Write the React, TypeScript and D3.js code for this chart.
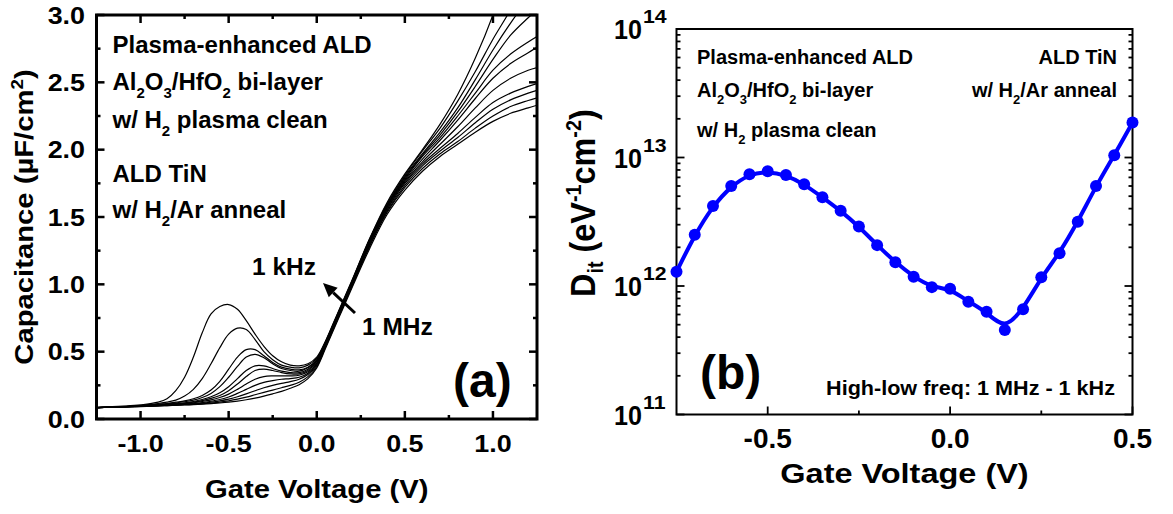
import React from 'react';
import * as d3 from 'd3';

const FONT = '"Liberation Sans", Arial, Helvetica, sans-serif';

// ---------- Panel (a): C-V curves, 1 kHz ... 1 MHz ----------
const VOLTS_A = [-1.25, -1.1, -1.0, -0.9, -0.85, -0.8, -0.75, -0.7, -0.65, -0.6, -0.55, -0.5, -0.45, -0.4, -0.35, -0.3, -0.25, -0.2, -0.15, -0.1, -0.05, 0.0, 0.05, 0.1, 0.15, 0.2, 0.3, 0.4, 0.5, 0.6, 0.7, 0.8, 0.9, 1.0, 1.1, 1.2, 1.25];

const CAP_F1 = [0.085, 0.095, 0.105, 0.125, 0.15, 0.21, 0.31, 0.46, 0.64, 0.78, 0.835, 0.85, 0.815, 0.73, 0.63, 0.54, 0.47, 0.425, 0.40, 0.395, 0.41, 0.46, 0.58, 0.73, 0.88, 1.03, 1.34, 1.61, 1.82, 2.00, 2.19, 2.41, 2.68, 3.0, 3.4, 3.8, 4.0];
const CAP_F2 = [0.085, 0.093, 0.10, 0.115, 0.125, 0.14, 0.17, 0.22, 0.30, 0.41, 0.53, 0.63, 0.675, 0.665, 0.59, 0.50, 0.44, 0.40, 0.385, 0.38, 0.40, 0.45, 0.575, 0.725, 0.875, 1.025, 1.335, 1.60, 1.81, 1.99, 2.16, 2.36, 2.58, 2.82, 3.04, 3.3, 3.45];
const CAP_F3 = [0.085, 0.092, 0.10, 0.11, 0.115, 0.125, 0.135, 0.15, 0.175, 0.215, 0.28, 0.37, 0.46, 0.515, 0.515, 0.47, 0.42, 0.385, 0.37, 0.365, 0.385, 0.44, 0.57, 0.72, 0.87, 1.02, 1.33, 1.59, 1.80, 1.97, 2.13, 2.31, 2.52, 2.74, 2.94, 3.12, 3.2];
const CAP_F4 = [0.085, 0.092, 0.10, 0.108, 0.112, 0.12, 0.128, 0.14, 0.16, 0.19, 0.24, 0.31, 0.39, 0.46, 0.48, 0.455, 0.41, 0.375, 0.36, 0.355, 0.38, 0.435, 0.565, 0.715, 0.865, 1.015, 1.325, 1.585, 1.79, 1.96, 2.11, 2.28, 2.47, 2.67, 2.85, 2.98, 3.04];
const CAP_F5 = [0.085, 0.091, 0.098, 0.106, 0.11, 0.115, 0.12, 0.13, 0.145, 0.165, 0.195, 0.24, 0.30, 0.36, 0.395, 0.395, 0.375, 0.355, 0.345, 0.345, 0.37, 0.43, 0.56, 0.71, 0.86, 1.01, 1.32, 1.58, 1.78, 1.95, 2.09, 2.25, 2.42, 2.59, 2.71, 2.80, 2.84];
const CAP_F6 = [0.085, 0.09, 0.097, 0.104, 0.108, 0.112, 0.117, 0.125, 0.137, 0.153, 0.175, 0.21, 0.26, 0.315, 0.36, 0.37, 0.36, 0.345, 0.335, 0.335, 0.36, 0.425, 0.555, 0.705, 0.855, 1.005, 1.315, 1.575, 1.77, 1.93, 2.07, 2.22, 2.38, 2.53, 2.64, 2.72, 2.76];
const CAP_F7 = [0.085, 0.09, 0.096, 0.102, 0.106, 0.11, 0.114, 0.12, 0.13, 0.142, 0.16, 0.185, 0.22, 0.26, 0.295, 0.315, 0.32, 0.32, 0.32, 0.325, 0.35, 0.415, 0.55, 0.70, 0.85, 1.0, 1.31, 1.565, 1.76, 1.91, 2.04, 2.17, 2.31, 2.44, 2.53, 2.59, 2.61];
const CAP_F8 = [0.085, 0.09, 0.095, 0.10, 0.104, 0.107, 0.11, 0.115, 0.122, 0.132, 0.145, 0.163, 0.19, 0.22, 0.25, 0.272, 0.285, 0.295, 0.30, 0.31, 0.34, 0.41, 0.545, 0.695, 0.845, 0.995, 1.30, 1.555, 1.75, 1.895, 2.01, 2.12, 2.24, 2.35, 2.42, 2.47, 2.49];
const CAP_F9 = [0.085, 0.09, 0.094, 0.099, 0.102, 0.105, 0.108, 0.112, 0.117, 0.125, 0.135, 0.148, 0.165, 0.187, 0.21, 0.232, 0.25, 0.265, 0.278, 0.295, 0.33, 0.40, 0.54, 0.69, 0.84, 0.99, 1.29, 1.545, 1.735, 1.88, 1.99, 2.09, 2.20, 2.30, 2.37, 2.42, 2.44];
const CAP_F10 = [0.085, 0.089, 0.093, 0.098, 0.10, 0.103, 0.106, 0.109, 0.113, 0.119, 0.126, 0.135, 0.147, 0.162, 0.18, 0.198, 0.215, 0.232, 0.25, 0.273, 0.315, 0.39, 0.535, 0.685, 0.835, 0.985, 1.28, 1.535, 1.72, 1.86, 1.97, 2.06, 2.16, 2.25, 2.32, 2.365, 2.385];
const CAP_F11 = [0.085, 0.089, 0.092, 0.097, 0.099, 0.101, 0.104, 0.107, 0.11, 0.114, 0.119, 0.125, 0.133, 0.143, 0.155, 0.17, 0.187, 0.205, 0.228, 0.255, 0.30, 0.38, 0.525, 0.675, 0.825, 0.975, 1.265, 1.52, 1.70, 1.84, 1.95, 2.04, 2.13, 2.21, 2.27, 2.31, 2.33];
const CAP_CURVES = [CAP_F1, CAP_F2, CAP_F3, CAP_F4, CAP_F5, CAP_F6, CAP_F7, CAP_F8, CAP_F9, CAP_F10, CAP_F11];

const XMAJOR_A = [-1.0, -0.5, 0.0, 0.5, 1.0];
const XLABELS_A = ['-1.0', '-0.5', '0.0', '0.5', '1.0'];
const XMINOR_A = [-0.75, -0.25, 0.25, 0.75];
const YMAJOR_A = [0, 0.5, 1.0, 1.5, 2.0, 2.5, 3.0];
const YLABELS_A = ['0.0', '0.5', '1.0', '1.5', '2.0', '2.5', '3.0'];
const YMINOR_A = [0.25, 0.75, 1.25, 1.75, 2.25, 2.75];

// ---------- Panel (b): Dit ----------
const VOLTS_B = [-0.75, -0.7, -0.65, -0.6, -0.55, -0.5, -0.45, -0.4, -0.35, -0.3, -0.25, -0.2, -0.15, -0.1, -0.05, 0.0, 0.05, 0.1, 0.15, 0.2, 0.25, 0.3, 0.35, 0.4, 0.45, 0.5];
const DIT = [1.29e12, 2.5e12, 4.2e12, 6.0e12, 7.4e12, 7.8e12, 7.3e12, 6.2e12, 4.9e12, 3.85e12, 2.9e12, 2.08e12, 1.53e12, 1.18e12, 0.98e12, 0.95e12, 0.755e12, 0.63e12, 0.455e12, 0.66e12, 1.17e12, 1.8e12, 3.16e12, 6.0e12, 1.04e13, 1.87e13];

const XMAJOR_B = [-0.5, 0.0, 0.5];
const XLABELS_B = ['-0.5', '0.0', '0.5'];
const XMINOR_B = [-0.25, 0.25];
const YDECADES_B = [1e11, 1e12, 1e13, 1e14];
const YEXP_B = ['11', '12', '13', '14'];

// ---------- layout ----------
const A = { left: 96.5, right: 537, top: 15, bottom: 419 };
const B = { left: 676.5, right: 1132.5, top: 29, bottom: 414.5 };

function T({ x, y, size, sx = 1, sy = 1, rot = 0, anchor = 'start', children }: any) {
  return (
    <g transform={`translate(${x},${y}) rotate(${rot}) scale(${sx},${sy})`}>
      <text x={0} y={0} fontSize={size} fontFamily={FONT} fontWeight="bold" textAnchor={anchor} fill="#000">
        {children}
      </text>
    </g>
  );
}

function Sub({ children, size, dy }: any) {
  return (
    <>
      <tspan fontSize={size} dy={dy}>{children}</tspan>
      <tspan dy={-dy}>{'\u200B'}</tspan>
    </>
  );
}

export default function App() {
  const xa = d3.scaleLinear().domain([-1.25, 1.25]).range([A.left, A.right]);
  const ya = d3.scaleLinear().domain([0, 3]).range([A.bottom, A.top]);
  const xb = d3.scaleLinear().domain([-0.75, 0.5]).range([B.left, B.right]);
  const yb = d3.scaleLog().domain([1e11, 1e14]).range([B.bottom, B.top]);

  const lineA = d3
    .line<number>()
    .x((_, i) => xa(VOLTS_A[i]))
    .y((d) => ya(d))
    .curve(d3.curveCatmullRom.alpha(0.5));

  const lineB = d3
    .line<number>()
    .x((_, i) => xb(VOLTS_B[i]))
    .y((d) => yb(d))
    .curve(d3.curveBasis);

  const minorB: number[] = [];
  for (let e = 11; e < 14; e++) for (let m = 2; m <= 9; m++) minorB.push(m * Math.pow(10, e));

  // arrow (a)
  const tail = [355, 313];
  const tip = [323, 283];
  const dx = tip[0] - tail[0];
  const dy = tip[1] - tail[1];
  const L = Math.hypot(dx, dy);
  const ux = dx / L;
  const uy = dy / L;
  const hl = 14;
  const hw = 6.5;
  const bx = tip[0] - ux * hl;
  const by = tip[1] - uy * hl;
  const head = `${tip[0]},${tip[1]} ${bx - uy * hw},${by + ux * hw} ${bx + uy * hw},${by - ux * hw}`;

  const tkA = 8;
  const tkAm = 4;
  const tkB = 8;
  const tkBm = 4;

  return (
    <svg width={1173} height={514} style={{ position: 'absolute', left: 0, top: 0, background: '#fff' }}>
      <rect x={0} y={0} width={1173} height={514} fill="#fff" />
      <defs>
        <clipPath id="clipA">
          <rect x={A.left} y={A.top} width={A.right - A.left} height={A.bottom - A.top} />
        </clipPath>
      </defs>

      {/* ===== Panel (a) ===== */}
      <g clipPath="url(#clipA)">
        {CAP_CURVES.map((c, i) => (
          <path key={i} d={lineA(c) || ''} fill="none" stroke="#000" strokeWidth={1.2} />
        ))}
      </g>
      <rect x={A.left} y={A.top} width={A.right - A.left} height={A.bottom - A.top} fill="none" stroke="#000" strokeWidth={3} />
      <g stroke="#000" strokeWidth={2.5}>
        {XMAJOR_A.map((v) => (
          <g key={'xa' + v}>
            <line x1={xa(v)} x2={xa(v)} y1={A.bottom} y2={A.bottom - tkA} />
            <line x1={xa(v)} x2={xa(v)} y1={A.top} y2={A.top + tkA} />
          </g>
        ))}
        {XMINOR_A.map((v) => (
          <g key={'xam' + v}>
            <line x1={xa(v)} x2={xa(v)} y1={A.bottom} y2={A.bottom - tkAm} />
            <line x1={xa(v)} x2={xa(v)} y1={A.top} y2={A.top + tkAm} />
          </g>
        ))}
        {YMAJOR_A.map((v) => (
          <g key={'ya' + v}>
            <line y1={ya(v)} y2={ya(v)} x1={A.left} x2={A.left + tkA} />
            <line y1={ya(v)} y2={ya(v)} x1={A.right} x2={A.right - tkA} />
          </g>
        ))}
        {YMINOR_A.map((v) => (
          <g key={'yam' + v}>
            <line y1={ya(v)} y2={ya(v)} x1={A.left} x2={A.left + tkAm} />
            <line y1={ya(v)} y2={ya(v)} x1={A.right} x2={A.right - tkAm} />
          </g>
        ))}
      </g>
      {XMAJOR_A.map((v, i) => (
        <T key={'xla' + v} x={xa(v)} y={452} size={24} sx={1.12} anchor="middle">{XLABELS_A[i]}</T>
      ))}
      {YMAJOR_A.map((v, i) => (
        <T key={'yla' + v} x={85} y={ya(v) + 8.5} size={24} sx={1.12} anchor="end">{YLABELS_A[i]}</T>
      ))}
      <T x={(A.left + A.right) / 2} y={498} size={25} sx={1.17} anchor="middle">Gate Voltage (V)</T>
      <T x={33} y={(A.top + A.bottom) / 2} size={25} sx={1.17} rot={-90} anchor="middle">
        Capacitance (µF/cm<tspan fontSize={16} dy={-10}>2</tspan><tspan dy={10}>)</tspan>
      </T>

      <T x={112.5} y={53} size={24}>Plasma-enhanced ALD</T>
      <T x={112.5} y={90} size={24}>
        Al<tspan fontSize={15} dy={8}>2</tspan><tspan dy={-8}>O</tspan><tspan fontSize={15} dy={8}>3</tspan><tspan dy={-8}>/HfO</tspan><tspan fontSize={15} dy={8}>2</tspan><tspan dy={-8}> bi-layer</tspan>
      </T>
      <T x={112.5} y={128} size={24}>
        w/ H<tspan fontSize={15} dy={8}>2</tspan><tspan dy={-8}> plasma clean</tspan>
      </T>
      <T x={112.5} y={182} size={24}>ALD TiN</T>
      <T x={112.5} y={218} size={24}>
        w/ H<tspan fontSize={15} dy={8}>2</tspan><tspan dy={-8}>/Ar anneal</tspan>
      </T>
      <T x={252} y={275} size={24.5}>1 kHz</T>
      <T x={362} y={335} size={24.5}>1 MHz</T>
      <line x1={tail[0]} y1={tail[1]} x2={bx} y2={by} stroke="#000" strokeWidth={3} />
      <polygon points={head} fill="#000" />
      <T x={453} y={397} size={48}>(a)</T>

      {/* ===== Panel (b) ===== */}
      <rect x={B.left} y={B.top} width={B.right - B.left} height={B.bottom - B.top} fill="none" stroke="#000" strokeWidth={2} />
      <g stroke="#000" strokeWidth={1.8}>
        {YDECADES_B.map((v) => (
          <g key={'yb' + v}>
            <line y1={yb(v)} y2={yb(v)} x1={B.left} x2={B.left + tkB} />
            <line y1={yb(v)} y2={yb(v)} x1={B.right} x2={B.right - tkB} />
          </g>
        ))}
        {minorB.map((v) => (
          <g key={'ybm' + v}>
            <line y1={yb(v)} y2={yb(v)} x1={B.left} x2={B.left + tkBm} />
            <line y1={yb(v)} y2={yb(v)} x1={B.right} x2={B.right - tkBm} />
          </g>
        ))}
        {XMAJOR_B.map((v) => (
          <line key={'xb' + v} x1={xb(v)} x2={xb(v)} y1={B.bottom} y2={B.bottom - tkB} />
        ))}
        {XMINOR_B.map((v) => (
          <line key={'xbm' + v} x1={xb(v)} x2={xb(v)} y1={B.bottom} y2={B.bottom - tkBm} />
        ))}
      </g>
      <path d={lineB(DIT) || ''} fill="none" stroke="#0000ff" strokeWidth={4} />
      {DIT.map((d, i) => (
        <circle key={'pt' + i} cx={xb(VOLTS_B[i])} cy={yb(d)} r={6} fill="#0000ff" />
      ))}
      {YDECADES_B.map((v, i) => (
        <g key={'ylb' + v}>
          <T x={642} y={yb(v) + 10} size={27} sx={0.93} anchor="end">10</T>
          <T x={643} y={yb(v) - 6} size={19} sx={1.12} anchor="start">{YEXP_B[i]}</T>
        </g>
      ))}
      {XMAJOR_B.map((v, i) => (
        <T key={'xlb' + v} x={xb(v)} y={448} size={28} anchor="middle">{XLABELS_B[i]}</T>
      ))}
      <T x={(B.left + B.right) / 2} y={483} size={28} sx={1.16} anchor="middle">Gate Voltage (V)</T>
      <T x={595} y={297} size={36} sx={0.9} rot={-90} anchor="start">
        D<tspan fontSize={22} dy={8}>it</tspan><tspan dy={-8}> (eV</tspan><tspan fontSize={22} dy={-14}>-1</tspan><tspan dy={14}>cm</tspan><tspan fontSize={22} dy={-14}>-2</tspan><tspan dy={14}>)</tspan>
      </T>

      <T x={697} y={64} size={20}>Plasma-enhanced ALD</T>
      <T x={697} y={97} size={20}>
        Al<tspan fontSize={13} dy={7}>2</tspan><tspan dy={-7}>O</tspan><tspan fontSize={13} dy={7}>3</tspan><tspan dy={-7}>/HfO</tspan><tspan fontSize={13} dy={7}>2</tspan><tspan dy={-7}> bi-layer</tspan>
      </T>
      <T x={697} y={137} size={20}>
        w/ H<tspan fontSize={13} dy={7}>2</tspan><tspan dy={-7}> plasma clean</tspan>
      </T>
      <T x={1117} y={64} size={20} anchor="end">ALD TiN</T>
      <T x={1117} y={97} size={20} anchor="end">
        w/ H<tspan fontSize={13} dy={7}>2</tspan><tspan dy={-7}>/Ar anneal</tspan>
      </T>
      <T x={700} y={389} size={48}>(b)</T>
      <T x={1115} y={395} size={20} sx={1.08} anchor="end">High-low freq: 1 MHz - 1 kHz</T>
    </svg>
  );
}
